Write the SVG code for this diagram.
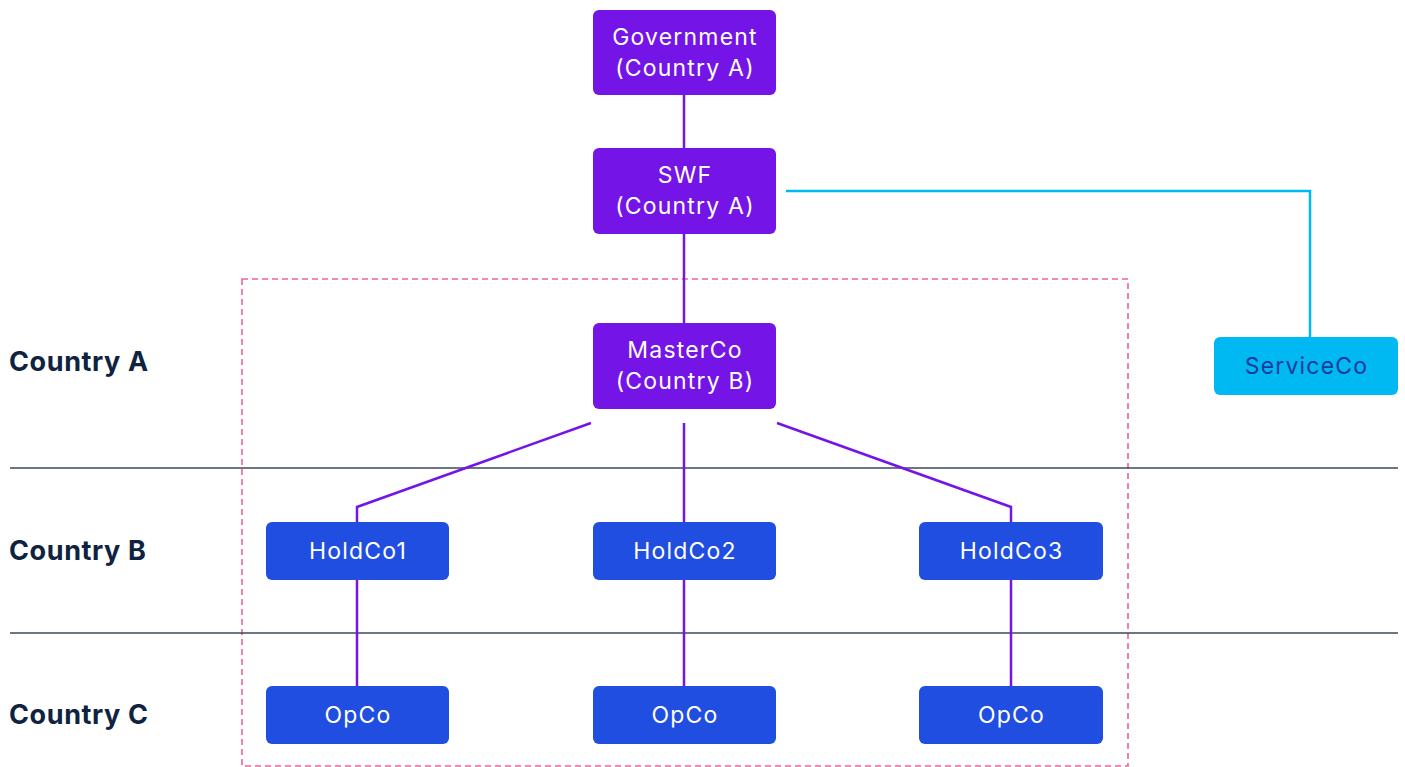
<svg xmlns="http://www.w3.org/2000/svg" width="1405" height="767" viewBox="0 0 1405 767">
<style>
.p{fill:#7414e6}
.b{fill:#1f4ee0}
.c{fill:#00b9f2}
.t{font-family:Inter,"Noto Sans",sans-serif;font-size:23px;letter-spacing:1.2px;fill:#ffffff;text-anchor:middle}
.ts{font-family:Inter,"Noto Sans",sans-serif;font-size:23px;letter-spacing:1.2px;fill:#1a3a9c;text-anchor:middle}
.lab{font-family:Inter,"Noto Sans",sans-serif;font-size:27px;letter-spacing:0.6px;font-weight:bold;fill:#0f2340}
.con{fill:none;stroke:#7414e6;stroke-width:2.5}
.cy{fill:none;stroke:#00b9f2;stroke-width:2.5}
.sep{stroke:#3c4a5a;stroke-width:1.5}
</style>
<rect x="242" y="279" width="886" height="487" fill="none" stroke="#f0609f" stroke-width="1.6" stroke-dasharray="6,4"/>
<line class="sep" x1="10" y1="468" x2="1398" y2="468"/>
<line class="sep" x1="10" y1="633" x2="1398" y2="633"/>
<text class="lab" x="9" y="371">Country A</text>
<text class="lab" x="9" y="560">Country B</text>
<text class="lab" x="9" y="724">Country C</text>
<g id="connectors">
<line class="con" x1="684" y1="95" x2="684" y2="148"/>
<line class="con" x1="684" y1="234" x2="684" y2="323"/>
<polyline class="con" points="591,423 357,507 357,522"/>
<line class="con" x1="684" y1="423" x2="684" y2="522"/>
<polyline class="con" points="777,423 1011,507 1011,522"/>
<line class="con" x1="357" y1="580" x2="357" y2="686"/>
<line class="con" x1="684" y1="580" x2="684" y2="686"/>
<line class="con" x1="1011" y1="580" x2="1011" y2="686"/>
<polyline class="cy" points="786,191 1310,191 1310,337"/>
</g>
<g id="government"><rect class="p" x="593" y="10" width="183" height="85" rx="6"/><text class="t" x="685" y="45">Government</text><text class="t" x="685" y="76">(Country A)</text></g>
<g id="swf"><rect class="p" x="593" y="148" width="183" height="86" rx="6"/><text class="t" x="685" y="183">SWF</text><text class="t" x="685" y="214">(Country A)</text></g>
<g id="masterco"><rect class="p" x="593" y="323" width="183" height="86" rx="6"/><text class="t" x="685" y="358">MasterCo</text><text class="t" x="685" y="389">(Country B)</text></g>
<g id="serviceco"><rect class="c" x="1214" y="337" width="184" height="58" rx="6"/><text class="ts" x="1306.5" y="374">ServiceCo</text></g>
<g id="holdco1"><rect class="b" x="266" y="522" width="183" height="58" rx="6"/><text class="t" x="358" y="559">HoldCo1</text></g>
<g id="holdco2"><rect class="b" x="593" y="522" width="183" height="58" rx="6"/><text class="t" x="685" y="559">HoldCo2</text></g>
<g id="holdco3"><rect class="b" x="919" y="522" width="184" height="58" rx="6"/><text class="t" x="1011.5" y="559">HoldCo3</text></g>
<g id="opco1"><rect class="b" x="266" y="686" width="183" height="58" rx="6"/><text class="t" x="358" y="723">OpCo</text></g>
<g id="opco2"><rect class="b" x="593" y="686" width="183" height="58" rx="6"/><text class="t" x="685" y="723">OpCo</text></g>
<g id="opco3"><rect class="b" x="919" y="686" width="184" height="58" rx="6"/><text class="t" x="1011.5" y="723">OpCo</text></g>
</svg>
